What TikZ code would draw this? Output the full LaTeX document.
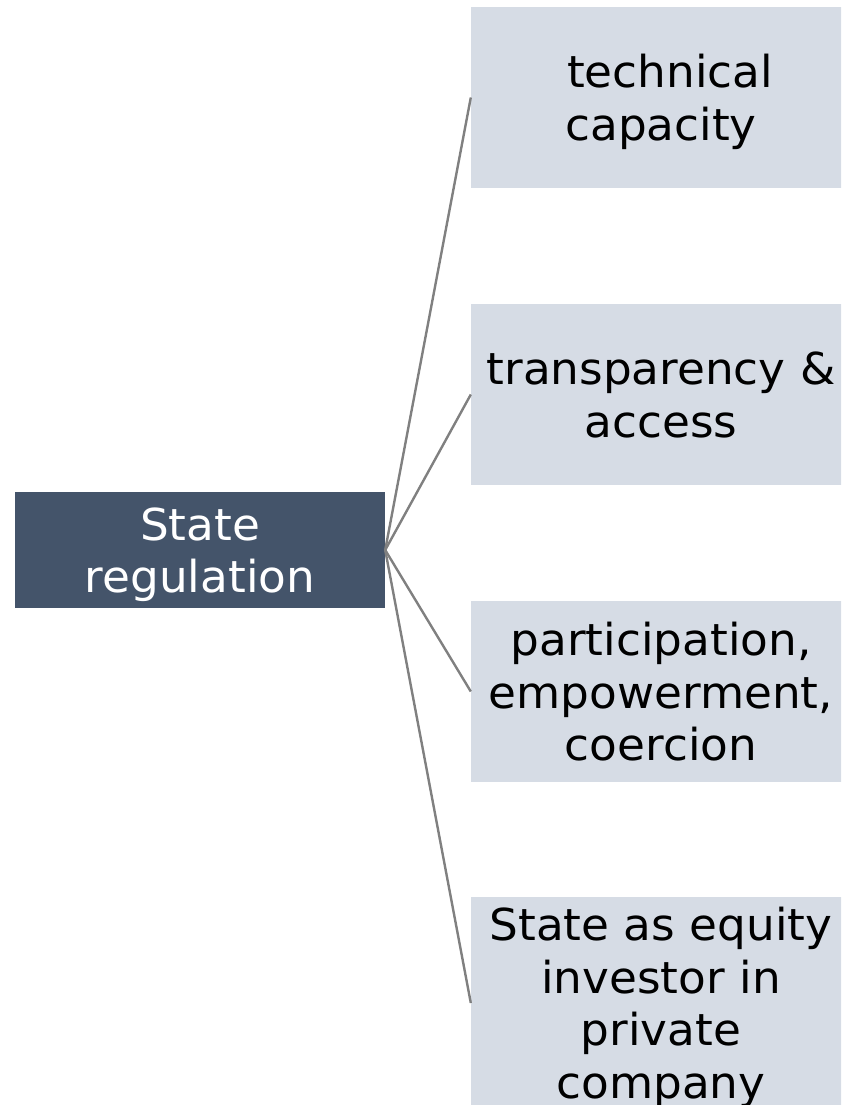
\documentclass[tikz,border=0pt]{standalone}
\usepackage{fontspec}
\setmainfont{DejaVu Sans}[FakeStretch=1.03]
\definecolor{darkbox}{HTML}{44546A}
\definecolor{lightbox}{HTML}{D6DCE5}
\definecolor{conn}{HTML}{808080}
\newcommand{\topstrut}{\rule{0pt}{43pt}}
\newcommand{\botstrut}{\rule[-10pt]{0pt}{10pt}}
\begin{document}
\begin{tikzpicture}[x=1pt,y=-1pt,
  box/.style={inner sep=0pt, align=center, font=\fontsize{44}{52.5}\selectfont},
  rootbox/.style={box, fill=darkbox, text=white, minimum width=370pt, minimum height=116pt},
  leafbox/.style={box, fill=lightbox, text=black, minimum width=380pt, minimum height=181pt},
  link/.style={draw=conn, line width=2.4pt}]
\useasboundingbox (0,0) rectangle (841,1105);
\clip (0,0) rectangle (841,1105);
\node[rootbox] (root) at (200,550) {\topstrut State\\regulation\botstrut};
\node[leafbox] (l1) at (661,97.5) {\topstrut\rule{18pt}{0pt}technical\\capacity\botstrut};
\node[leafbox] (l2) at (661,394.5) {\topstrut transparency \&\\access\botstrut};
\node[leafbox] (l3) at (661,691.5) {\topstrut participation,\\empowerment,\\coercion\botstrut};
\node[leafbox, minimum height=212pt] (l4) at (661,1003) {\topstrut State as equity\\investor in\\private\\company\botstrut};
\draw[link] (root.east) -- (l1.west);
\draw[link] (root.east) -- (l2.west);
\draw[link] (root.east) -- (l3.west);
\draw[link] (root.east) -- (l4.west);
\end{tikzpicture}
\end{document}
